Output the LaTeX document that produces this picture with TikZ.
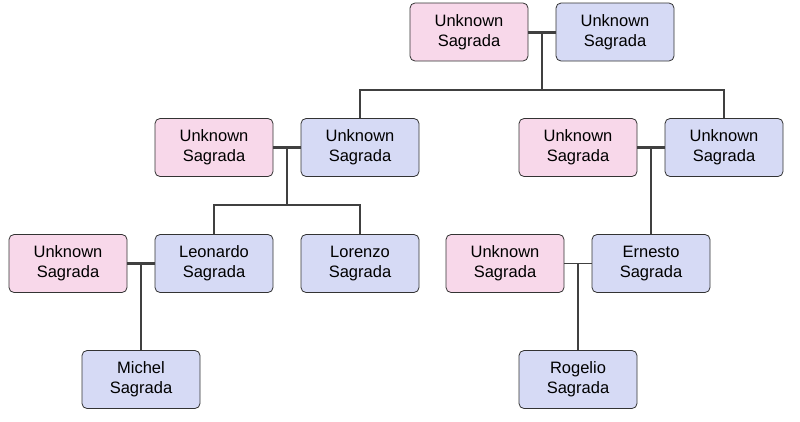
\documentclass[tikz,border=0pt]{standalone}
\usepackage{fontspec}
\setmainfont{Liberation Sans}
\begin{document}
\begin{tikzpicture}[x=1pt,y=-1pt,
 person/.style={draw=black!80,rounded corners=5pt,minimum width=118pt,minimum height=58pt,align=center,font=\fontsize{16.5}{20}\selectfont,line width=0.8pt},
 fem/.style={person,fill={rgb,255:red,248;green,216;blue,234}},
 mal/.style={person,fill={rgb,255:red,214;green,218;blue,245}},
 wed/.style={line width=3pt,draw=black!75},
 wedthin/.style={line width=1.3pt,draw=black!75},
 kid/.style={line width=1.4pt,draw=black!75}]
\useasboundingbox (0,0) rectangle (800,421);
\node[fem] (a1) at (469,32) {Unknown\\Sagrada};
\node[mal] (a2) at (615,32) {Unknown\\Sagrada};
\node[fem] (b1) at (214,147.5) {Unknown\\Sagrada};
\node[mal] (b2) at (360,147.5) {Unknown\\Sagrada};
\node[fem] (c1) at (578,147.5) {Unknown\\Sagrada};
\node[mal] (c2) at (724,147.5) {Unknown\\Sagrada};
\node[fem] (d1) at (68,263.5) {Unknown\\Sagrada};
\node[mal] (d2) at (214,263.5) {Leonardo\\Sagrada};
\node[mal] (d3) at (360,263.5) {Lorenzo\\Sagrada};
\node[fem] (e1) at (505,263.5) {Unknown\\Sagrada};
\node[mal] (e2) at (651,263.5) {Ernesto\\Sagrada};
\node[mal] (f1) at (141,379.5) {Michel\\Sagrada};
\node[mal] (g1) at (578,379.5) {Rogelio\\Sagrada};
% couples
\draw[wed] (a1.east) -- (a2.west);
\draw[wed] (b1.east) -- (b2.west);
\draw[wed] (c1.east) -- (c2.west);
\draw[wed] (d1.east) -- (d2.west);
\draw[wedthin] (e1.east) -- (e2.west);
\coordinate (ma) at (542,32);
\coordinate (mb) at (287,147.5);
\coordinate (mc) at (651,147.5);
\coordinate (md) at (141,263.5);
\coordinate (me) at (578,263.5);
% children
\draw[kid] (ma) -- (542,90) -| (b2.north);
\draw[kid] (542,90) -| (c2.north);
\draw[kid] (mb) -- (287,205) -| (d2.north);
\draw[kid] (287,205) -| (d3.north);
\draw[kid] (mc) -- (e2.north);
\draw[kid] (md) -- (f1.north);
\draw[kid] (me) -- (g1.north);
\end{tikzpicture}
\end{document}
